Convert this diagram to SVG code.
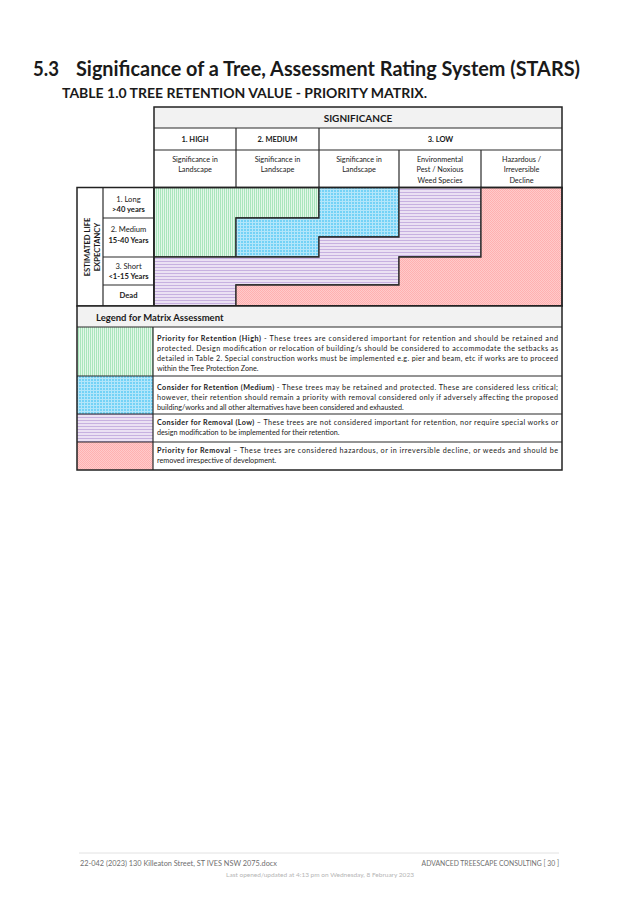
<svg xmlns="http://www.w3.org/2000/svg" width="637" height="901" viewBox="0 0 637 901">
<defs>
<pattern id="pg" width="2" height="2" patternUnits="userSpaceOnUse"><rect width="2" height="2" fill="#e2f7e8"/><rect width="1" height="2" fill="#a9e5bc"/></pattern>
<pattern id="pb" width="3" height="3" patternUnits="userSpaceOnUse"><rect width="3" height="3" fill="#74d2f6"/><rect width="3" height="1" fill="#b3e6fa"/><rect width="1" height="3" fill="#b3e6fa"/></pattern>
<pattern id="pp" width="3" height="3" patternUnits="userSpaceOnUse"><rect width="3" height="3" fill="#ebe1f3"/><rect width="3" height="1" fill="#c7b1e0"/></pattern>
<pattern id="pr" width="2" height="2" patternUnits="userSpaceOnUse"><rect width="2" height="2" fill="#ffcaca"/><rect x="0" y="0" width="1" height="1" fill="#ffb0b0"/><rect x="1" y="1" width="1" height="1" fill="#ffb0b0"/></pattern>
</defs>
<style>
text{font-family:Lato,"Open Sans","Liberation Sans",sans-serif;fill:#1a1a1a}
.ln{stroke:#2a2a2a;stroke-width:1.2;fill:none}
.ob{stroke:#222;stroke-width:1.5;fill:none}
.rg{stroke:#2a2a2a;stroke-width:1.3}
.hd{font-size:7.5px;font-weight:bold;text-anchor:middle}
.sb{font-size:7.3px;text-anchor:middle}
.rl{font-size:7.6px;text-anchor:middle}
.lg{font-size:7.2px}
.ft{font-size:6.8px;fill:#6f6f6f}
</style>
<rect width="637" height="901" fill="#ffffff"/>

<g id="titles">
<text x="33" y="76" font-size="20.5" font-weight="bold" textLength="26" lengthAdjust="spacingAndGlyphs">5.3</text>
<text x="76" y="76" font-size="20.5" font-weight="bold" textLength="504" lengthAdjust="spacingAndGlyphs">Significance of a Tree, Assessment Rating System (STARS)</text>
<text x="62" y="98" font-size="14" font-weight="bold" textLength="365" lengthAdjust="spacingAndGlyphs">TABLE 1.0 TREE RETENTION VALUE - PRIORITY MATRIX.</text>
</g>

<g id="header">
<rect x="154" y="107" width="408" height="21" fill="#f2f2f2"/>
<rect x="154" y="128" width="408" height="60" fill="#ffffff"/>
<line class="ln" x1="154" y1="128" x2="562" y2="128"/>
<line class="ln" x1="154" y1="150" x2="562" y2="150"/>
<line class="ln" x1="236" y1="128" x2="236" y2="188"/>
<line class="ln" x1="319" y1="128" x2="319" y2="188"/>
<line class="ln" x1="399" y1="150" x2="399" y2="188"/>
<line class="ln" x1="481" y1="150" x2="481" y2="188"/>
<rect class="ob" x="154" y="107" width="408" height="81"/>
<text x="358" y="121.5" font-size="10" font-weight="bold" text-anchor="middle">SIGNIFICANCE</text>
<text class="hd" x="195" y="142">1. HIGH</text>
<text class="hd" x="277.5" y="142">2. MEDIUM</text>
<text class="hd" x="440.5" y="142">3. LOW</text>
<text class="sb" x="195" y="161.5">Significance in</text>
<text class="sb" x="195" y="172">Landscape</text>
<text class="sb" x="277.5" y="161.5">Significance in</text>
<text class="sb" x="277.5" y="172">Landscape</text>
<text class="sb" x="359" y="161.5">Significance in</text>
<text class="sb" x="359" y="172">Landscape</text>
<text class="sb" x="440" y="161.5">Environmental</text>
<text class="sb" x="440" y="172">Pest / Noxious</text>
<text class="sb" x="440" y="182.5">Weed Species</text>
<text class="sb" x="521.5" y="161.5">Hazardous /</text>
<text class="sb" x="521.5" y="172">Irreversible</text>
<text class="sb" x="521.5" y="182.5">Decline</text>
</g>

<g id="row-labels">
<rect x="77" y="187.5" width="77" height="118.5" fill="#ffffff"/>
<line class="ln" x1="103" y1="187.5" x2="103" y2="306"/>
<line class="ln" x1="103" y1="218" x2="154" y2="218"/>
<line class="ln" x1="103" y1="257" x2="154" y2="257"/>
<line class="ln" x1="103" y1="285" x2="154" y2="285"/>
<rect class="ob" x="77" y="187.5" width="77" height="118.5"/>
<g transform="translate(89.5,247) rotate(-90)">
<text x="0" y="0" font-size="7.6" font-weight="bold" text-anchor="middle">ESTIMATED LIFE</text>
<text x="0" y="10" font-size="7.6" font-weight="bold" text-anchor="middle">EXPECTANCY</text>
</g>
<text class="rl" x="128.5" y="201.5">1. Long</text>
<text class="rl" x="128.5" y="212" font-weight="bold">&gt;40 years</text>
<text class="rl" x="128.5" y="232">2. Medium</text>
<text class="rl" x="128.5" y="242.5" font-weight="bold">15-40 Years</text>
<text class="rl" x="128.5" y="268.5">3. Short</text>
<text class="rl" x="128.5" y="279" font-weight="bold">&lt;1-15 Years</text>
<text class="rl" x="128.5" y="298" font-weight="bold">Dead</text>
</g>

<g id="matrix">
<polygon id="zone-high" class="rg" fill="url(#pg)" points="154,187.5 319,187.5 319,218 236,218 236,257 154,257"/>
<polygon id="zone-medium" class="rg" fill="url(#pb)" points="319,187.5 399,187.5 399,237 319,237 319,257 236,257 236,218 319,218"/>
<polygon id="zone-low" class="rg" fill="url(#pp)" points="399,187.5 481,187.5 481,257 399,257 399,285 236,285 236,306 154,306 154,257 236,257 319,257 319,237 399,237"/>
<polygon id="zone-removal" class="rg" fill="url(#pr)" points="481,187.5 562,187.5 562,306 236,306 236,285 399,285 399,257 481,257"/>
<rect class="ob" x="154" y="187.5" width="408" height="118.5"/>
</g>

<g id="legend">
<rect x="77" y="306" width="485" height="21" fill="#f2f2f2"/>
<rect x="77" y="327" width="485" height="143" fill="#ffffff"/>
<rect x="77" y="327" width="76" height="49" fill="url(#pg)"/>
<rect x="77" y="376" width="76" height="38" fill="url(#pb)"/>
<rect x="77" y="414" width="76" height="28" fill="url(#pp)"/>
<rect x="77" y="442" width="76" height="28" fill="url(#pr)"/>
<line class="ln" x1="77" y1="327" x2="562" y2="327"/>
<line class="ln" x1="77" y1="376" x2="562" y2="376"/>
<line class="ln" x1="77" y1="414" x2="562" y2="414"/>
<line class="ln" x1="77" y1="442" x2="562" y2="442"/>
<line class="ln" x1="153" y1="327" x2="153" y2="470"/>
<rect class="ob" x="77" y="306" width="485" height="164"/>
<text x="96" y="320.5" font-size="9.5" font-weight="bold">Legend for Matrix Assessment</text>

<text class="lg" x="157" y="340.5" textLength="401" lengthAdjust="spacing"><tspan font-weight="bold">Priority for Retention (High)</tspan> - These trees are considered important for retention and should be retained and</text>
<text class="lg" x="157" y="351" textLength="401" lengthAdjust="spacing">protected. Design modification or relocation of building/s should be considered to accommodate the setbacks as</text>
<text class="lg" x="157" y="361" textLength="401" lengthAdjust="spacing">detailed in Table 2. Special construction works must be implemented e.g. pier and beam, etc if works are to proceed</text>
<text class="lg" x="157" y="371">within the Tree Protection Zone.</text>

<text class="lg" x="157" y="389.5" textLength="401" lengthAdjust="spacing"><tspan font-weight="bold">Consider for Retention (Medium)</tspan> - These trees may be retained and protected. These are considered less critical;</text>
<text class="lg" x="157" y="399.5" textLength="401" lengthAdjust="spacing">however, their retention should remain a priority with removal considered only if adversely affecting the proposed</text>
<text class="lg" x="157" y="409.5">building/works and all other alternatives have been considered and exhausted.</text>

<text class="lg" x="157" y="425" textLength="401" lengthAdjust="spacing"><tspan font-weight="bold">Consider for Removal (Low)</tspan> – These trees are not considered important for retention, nor require special works or</text>
<text class="lg" x="157" y="435">design modification to be implemented for their retention.</text>

<text class="lg" x="157" y="453" textLength="401" lengthAdjust="spacing"><tspan font-weight="bold">Priority for Removal</tspan> – These trees are considered hazardous, or in irreversible decline, or weeds and should be</text>
<text class="lg" x="157" y="463">removed irrespective of development.</text>
</g>

<g id="footer">
<line x1="79" y1="853" x2="559" y2="853" stroke="#e2e2e2" stroke-width="1"/>
<text class="ft" x="80" y="866" textLength="197" lengthAdjust="spacingAndGlyphs">22-042 (2023) 130 Killeaton Street, ST IVES  NSW  2075.docx</text>
<text class="ft" x="559" y="866" text-anchor="end">ADVANCED TREESCAPE CONSULTING [ 30 ]</text>
<text x="320" y="877" font-size="6.5" style="fill:#b5b5b5" text-anchor="middle">Last opened/updated at 4:13 pm on Wednesday, 8 February 2023</text>
</g>
</svg>
